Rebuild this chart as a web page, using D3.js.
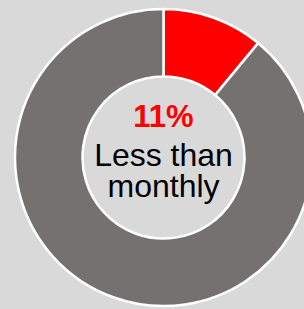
<!DOCTYPE html>
<html><head><meta charset="utf-8">
<script src="https://cdn.jsdelivr.net/npm/d3@7"></script>
<style>html,body{margin:0;padding:0;background:#d9d9d9;}svg{display:block;}</style>
</head><body>
<svg id="chart" width="304" height="309"></svg>
<script>
const categories = ["Less than monthly", "Other"];
const values = [11, 89];
const colors = ["#ff0000", "#767171"];
const centerPct = "11%";
const centerLabel = ["Less than", "monthly"];

const svg = d3.select("#chart");
svg.append("rect").attr("width", 304).attr("height", 309).attr("fill", "#d9d9d9");
const g = svg.append("g").attr("transform", "translate(163.5,157.5)");
const pie = d3.pie().sort(null).value(d => d)(values);
const arc = d3.arc().innerRadius(81).outerRadius(148.5);
g.selectAll("path").data(pie).join("path")
  .attr("d", arc)
  .attr("fill", (d, i) => colors[i])
  .attr("stroke", "#ffffff")
  .attr("stroke-width", 2.5)
  .attr("stroke-linejoin", "round");

g.append("text").attr("x", 0).attr("y", -30.5)
  .attr("text-anchor", "middle")
  .attr("font-family", "Liberation Sans, Arial, sans-serif")
  .attr("font-weight", "bold").attr("font-size", 31)
  .attr("fill", "#ff0000").text(centerPct);
const lbl = g.append("text")
  .attr("text-anchor", "middle")
  .attr("font-family", "Liberation Sans, Arial, sans-serif")
  .attr("font-size", 32)
  .attr("fill", "#000000");
centerLabel.forEach((t, i) => {
  lbl.append("tspan").attr("x", 0).attr("y", 8 + i * 31.5).text(t);
});
</script>
</body></html>
